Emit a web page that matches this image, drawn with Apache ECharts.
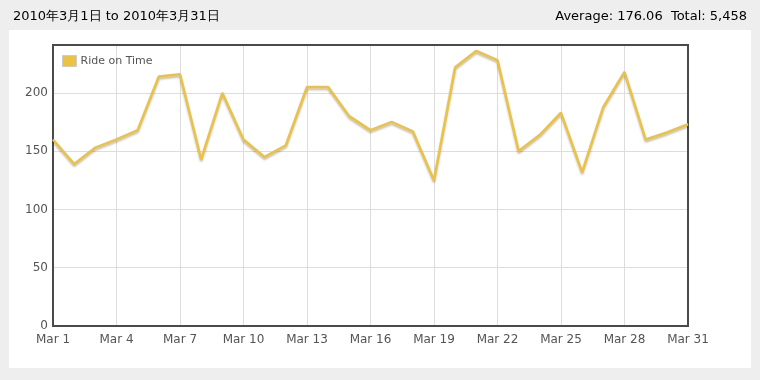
<!DOCTYPE html>
<html>
<head>
<meta charset="utf-8">
<script src="https://cdn.jsdelivr.net/npm/echarts@6/dist/echarts.min.js"></script>
<style>
html,body{margin:0;padding:0;background:#eeeeee;}
#chart{width:760px;height:380px;}
</style>
</head>
<body>
<div id="chart"></div>
<script>
var categories = ["Mar 1","Mar 2","Mar 3","Mar 4","Mar 5","Mar 6","Mar 7","Mar 8","Mar 9","Mar 10",
  "Mar 11","Mar 12","Mar 13","Mar 14","Mar 15","Mar 16","Mar 17","Mar 18","Mar 19","Mar 20",
  "Mar 21","Mar 22","Mar 23","Mar 24","Mar 25","Mar 26","Mar 27","Mar 28","Mar 29","Mar 30","Mar 31"];
var rideOnTime = [160,139,153,160,168,214,216,143,200,160,
  145,155,205,205,180,168,175,167,125,222,
  236,228,150,164,183,132,188,218,160,166,173];
var seriesName = "Ride on Time";
var titleText = "2010年3月1日 to 2010年3月31日";
var summaryText = "Average: 176.06  Total: 5,458";
var yTicks = [0,50,100,150,200];

var chart = echarts.init(document.getElementById('chart'), null, {renderer:'canvas'});
var font = "'Lucida Grande','DejaVu Sans','Noto Sans',sans-serif";
chart.setOption({
  backgroundColor: '#eeeeee',
  animation: false,
  graphic: [{
    type: 'rect', z: -10, silent: true,
    shape: {x: 9, y: 30, width: 742, height: 338},
    style: {fill: '#ffffff'}
  }],
  title: [
    {text: titleText, left: 8, top: 5,
     textStyle: {fontSize: 13, fontWeight: 'normal', color: '#000', fontFamily: font}},
    {text: summaryText, right: 8, top: 5,
     textStyle: {fontSize: 13, fontWeight: 'normal', color: '#000', fontFamily: font}}
  ],
  legend: {
    left: 62, top: 55, orient: 'vertical',
    icon: 'rect', itemWidth: 14, itemHeight: 11, itemGap: 5,
    padding: 0,
    itemStyle: {borderColor: '#cccccc', borderWidth: 1},
    textStyle: {fontSize: 11, color: '#545454', fontFamily: font, padding: [0,0,0,-1]},
    data: [seriesName]
  },
  grid: {
    left: 53, right: 72, top: 45, bottom: 54, z: 3,
    show: true, borderColor: '#4a4a4a', borderWidth: 2, backgroundColor: 'transparent'
  },
  xAxis: {
    type: 'category', data: categories, boundaryGap: false,
    axisLine: {show: false}, axisTick: {show: false},
    axisLabel: {interval: 2, color: '#545454', fontSize: 12, fontFamily: font, margin: 8},
    splitLine: {show: true, interval: 2, lineStyle: {color: '#dddddd', width: 1}}
  },
  yAxis: {
    type: 'value', min: 0, max: 241, interval: 50,
    axisLine: {show: false}, axisTick: {show: false},
    axisLabel: {color: '#545454', fontSize: 12, fontFamily: font, margin: 5, showMaxLabel: false,
      formatter: function (v) { return yTicks.indexOf(v) >= 0 ? String(v) : ''; }},
    splitLine: {show: true, lineStyle: {color: '#dddddd', width: 1}}
  },
  series: [{
    name: seriesName, type: 'line', data: rideOnTime, z: 4,
    symbol: 'none', smooth: false,
    itemStyle: {color: '#edc240'},
    lineStyle: {color: '#edc240', width: 2.5,
      shadowColor: 'rgba(0,0,0,0.25)', shadowBlur: 2, shadowOffsetY: 2}
  }]
});
</script>
</body>
</html>
